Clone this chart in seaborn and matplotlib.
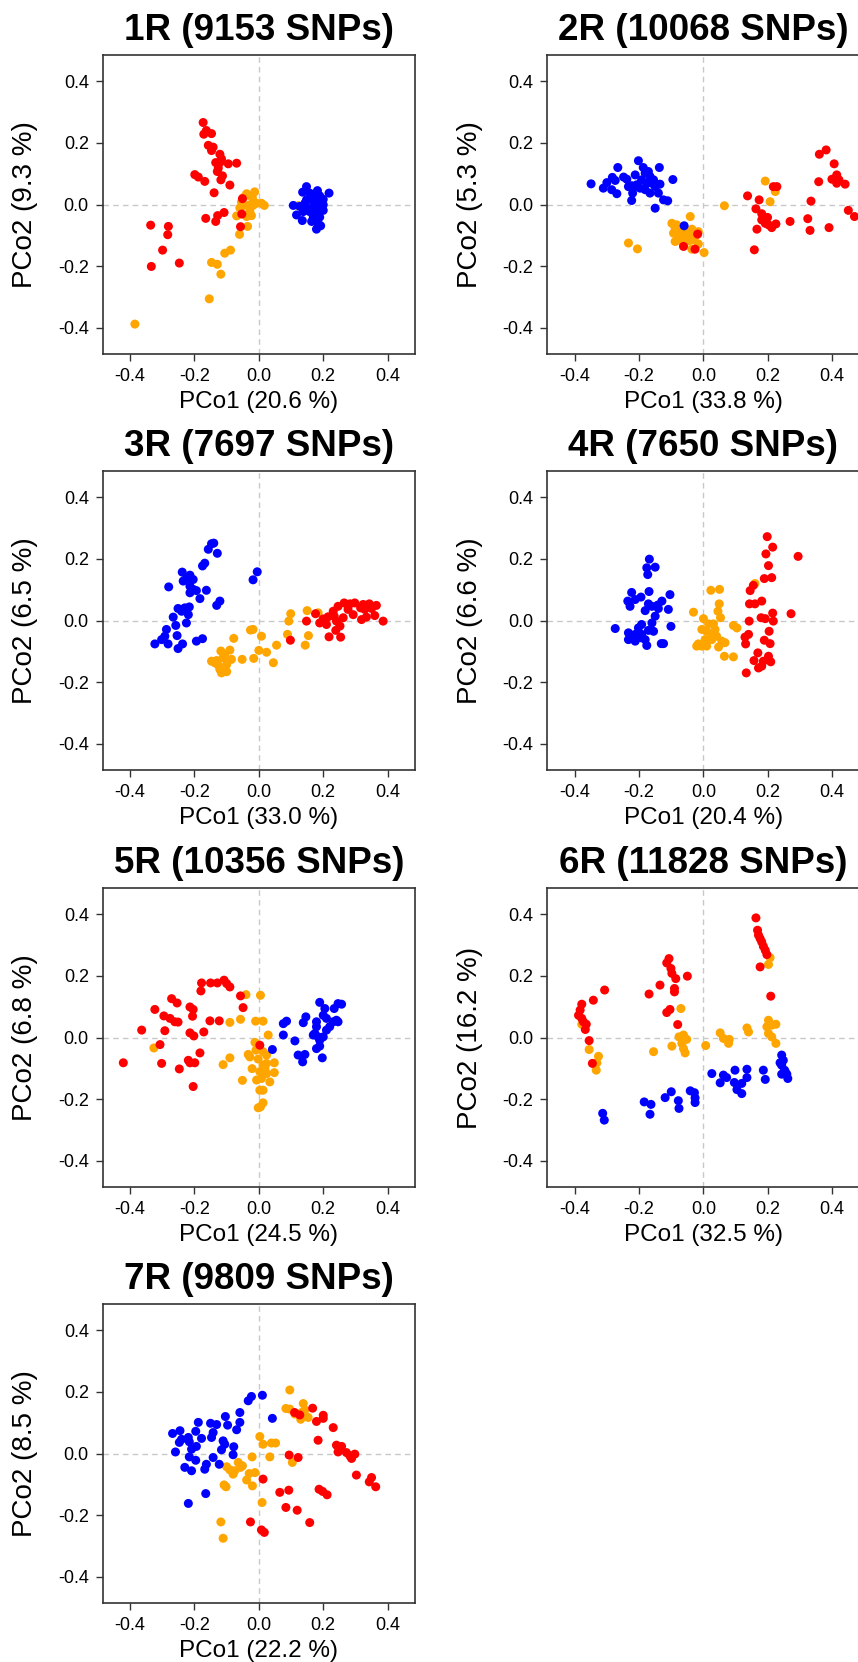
import matplotlib
matplotlib.use('Agg')
import matplotlib.pyplot as plt
import seaborn as sns
import pandas as pd

# chromosome titles and % variance explained
chroms = ['1R', '2R', '3R', '4R', '5R', '6R', '7R']
snps = [9153, 10068, 7697, 7650, 10356, 11828, 9809]
pco1_pct = [20.6, 33.8, 33.0, 20.4, 24.5, 32.5, 22.2]
pco2_pct = [9.3, 5.3, 6.5, 6.6, 6.8, 16.2, 8.5]
ticks = [-0.4, -0.2, 0.0, 0.2, 0.4]
tick_labels = ['-0.4', '-0.2', '0.0', '0.2', '0.4']

# (PCo1, PCo2) per group
c1_orange = [(-0.385, -0.388), (-0.154, -0.306), (-0.118, -0.226), (-0.147, -0.188), (-0.129, -0.194),
             (-0.106, -0.158), (-0.088, -0.148), (-0.060, -0.097), (-0.035, -0.071), (-0.069, -0.037),
             (-0.038, -0.039), (-0.023, -0.036), (-0.028, -0.023), (-0.059, -0.011), (-0.049, -0.004),
             (-0.033, -0.003), (-0.018, -0.003), (-0.007, 0.004), (0.008, 0.004), (0.017, -0.003),
             (-0.038, 0.035), (-0.013, 0.041), (-0.020, 0.021), (-0.054, 0.008), (-0.047, 0.023),
             (0.122, -0.004)]
c1_red = [(-0.173, 0.266), (-0.163, 0.240), (-0.171, 0.228), (-0.147, 0.230), (-0.157, 0.192),
          (-0.142, 0.186), (-0.147, 0.175), (-0.121, 0.163), (-0.116, 0.148), (-0.134, 0.136),
          (-0.121, 0.136), (-0.095, 0.132), (-0.069, 0.134), (-0.126, 0.118), (-0.129, 0.107),
          (-0.113, 0.093), (-0.118, 0.080), (-0.199, 0.097), (-0.188, 0.089), (-0.168, 0.075),
          (-0.090, 0.063), (-0.139, 0.038), (-0.051, 0.019), (-0.053, -0.031), (-0.108, -0.026),
          (-0.128, -0.036), (-0.134, -0.055), (-0.165, -0.045), (-0.057, -0.072), (-0.336, -0.067),
          (-0.281, -0.071), (-0.283, -0.098), (-0.299, -0.148), (-0.334, -0.201), (-0.247, -0.190)]
c1_blue = [(0.148, 0.058), (0.182, 0.045), (0.218, 0.037), (0.136, 0.040), (0.164, 0.026),
           (0.189, 0.028), (0.200, 0.017), (0.148, 0.015), (0.169, 0.010), (0.189, 0.004),
           (0.107, -0.003), (0.127, -0.006), (0.153, -0.012), (0.174, -0.006), (0.195, -0.012),
           (0.138, -0.023), (0.158, -0.023), (0.200, -0.019), (0.117, -0.034), (0.179, -0.028),
           (0.169, -0.039), (0.189, -0.041), (0.135, -0.052), (0.164, -0.055), (0.184, -0.061),
           (0.192, -0.069), (0.179, -0.080), (0.143, 0.004), (0.200, -0.001), (0.158, 0.037),
           (0.174, 0.026)]

c2_orange = [(-0.233, -0.125), (-0.205, -0.144), (-0.098, -0.061), (-0.041, -0.039), (-0.088, -0.077),
             (-0.067, -0.082), (-0.047, -0.088), (-0.036, -0.080), (-0.016, -0.088), (-0.093, -0.093),
             (-0.078, -0.104), (-0.062, -0.109), (-0.036, -0.115), (-0.088, -0.120), (-0.067, -0.120),
             (-0.047, -0.118), (-0.016, -0.128), (-0.036, -0.145), (0.002, -0.156), (0.065, -0.004),
             (0.192, 0.076), (0.223, 0.042), (0.207, 0.009), (-0.026, -0.104), (-0.083, -0.066),
             (-0.052, -0.098)]
c2_red = [(-0.062, -0.136), (-0.026, -0.145), (-0.018, -0.096), (0.137, 0.028), (0.173, 0.015),
          (0.163, -0.014), (0.181, -0.030), (0.186, -0.044), (0.199, -0.042), (0.192, -0.061),
          (0.212, -0.075), (0.225, -0.063), (0.166, -0.080), (0.158, -0.147), (0.269, -0.055),
          (0.217, 0.058), (0.228, 0.058), (0.334, 0.011), (0.324, -0.046), (0.331, -0.084),
          (0.390, -0.075), (0.358, 0.074), (0.360, 0.163), (0.381, 0.177), (0.406, 0.132),
          (0.399, 0.082), (0.414, 0.096), (0.421, 0.080), (0.414, 0.069), (0.440, 0.066),
          (0.450, -0.019), (0.469, -0.039), (0.181, -0.050), (0.202, -0.066)]
c2_blue = [(-0.349, 0.067), (-0.311, 0.053), (-0.300, 0.071), (-0.283, 0.088), (-0.274, 0.078),
           (-0.266, 0.120), (-0.285, 0.048), (-0.269, 0.035), (-0.248, 0.089), (-0.238, 0.082),
           (-0.223, 0.061), (-0.220, 0.037), (-0.223, 0.013), (-0.212, 0.096), (-0.202, 0.142),
           (-0.207, 0.064), (-0.192, 0.080), (-0.187, 0.120), (-0.181, 0.102), (-0.181, 0.048),
           (-0.171, 0.107), (-0.166, 0.091), (-0.160, 0.069), (-0.166, 0.037), (-0.155, 0.080),
           (-0.137, 0.120), (-0.135, 0.066), (-0.150, 0.058), (-0.140, 0.037), (-0.124, 0.015),
           (-0.111, 0.012), (-0.095, 0.081), (-0.150, -0.012), (-0.060, -0.069), (-0.233, 0.058),
           (-0.212, 0.058), (-0.197, 0.053), (-0.176, 0.069)]

c3_orange = [(0.150, 0.032), (0.099, 0.022), (0.093, -0.002), (0.089, -0.045), (0.154, -0.049),
             (0.144, -0.080), (0.055, -0.080), (0.045, -0.137), (0.024, -0.103), (0.000, -0.097),
             (-0.016, -0.123), (0.008, -0.051), (-0.018, -0.029), (-0.026, -0.031), (-0.078, -0.058),
             (-0.052, -0.126), (-0.090, -0.096), (-0.118, -0.099), (-0.147, -0.132), (-0.131, -0.130),
             (-0.126, -0.145), (-0.111, -0.121), (-0.100, -0.143), (-0.085, -0.126), (-0.116, -0.170),
             (-0.100, -0.166), (-0.137, -0.137), (-0.121, -0.159), (-0.106, -0.110), (0.184, 0.025)]
c3_red = [(0.098, -0.064), (0.176, 0.022), (0.148, -0.002), (0.189, -0.008), (0.200, 0.005),
          (0.215, 0.012), (0.210, -0.013), (0.241, -0.002), (0.234, 0.014), (0.262, 0.009),
          (0.252, -0.018), (0.239, -0.032), (0.218, -0.053), (0.254, -0.054), (0.246, 0.046),
          (0.265, 0.057), (0.277, 0.036), (0.298, 0.057), (0.316, 0.041), (0.293, 0.019),
          (0.319, 0.003), (0.334, 0.011), (0.360, 0.016), (0.324, 0.052), (0.343, 0.054),
          (0.365, 0.049), (0.386, -0.002), (0.350, 0.039), (0.329, 0.036), (0.283, 0.054),
          (0.231, 0.030)]
c3_blue = [(-0.140, 0.251), (-0.147, 0.249), (-0.157, 0.231), (-0.129, 0.218), (-0.168, 0.186),
           (-0.175, 0.177), (-0.238, 0.157), (-0.214, 0.147), (-0.204, 0.133), (-0.235, 0.128),
           (-0.225, 0.136), (-0.280, 0.109), (-0.214, 0.111), (-0.204, 0.101), (-0.194, 0.097),
           (-0.214, 0.090), (-0.163, 0.098), (-0.183, 0.071), (-0.121, 0.063), (-0.131, 0.049),
           (-0.216, 0.044), (-0.230, 0.041), (-0.251, 0.039), (-0.240, 0.030), (-0.219, 0.019),
           (-0.266, 0.011), (-0.225, -0.008), (-0.258, -0.016), (-0.287, -0.029), (-0.292, -0.051),
           (-0.254, -0.049), (-0.302, -0.062), (-0.323, -0.076), (-0.282, -0.076), (-0.237, -0.076),
           (-0.251, -0.091), (-0.194, -0.067), (-0.175, -0.059), (-0.005, 0.158), (-0.018, 0.132),
           (-0.235, 0.036)]

c4_orange = [(0.023, 0.098), (0.050, 0.101), (0.049, 0.054), (0.045, 0.030), (0.053, 0.009),
             (-0.031, 0.027), (0.000, 0.006), (0.016, -0.011), (0.031, -0.011), (-0.005, -0.029),
             (0.010, -0.035), (0.026, -0.045), (0.041, -0.051), (0.057, -0.067), (0.067, -0.072),
             (0.047, -0.086), (0.065, -0.116), (0.093, -0.118), (-0.016, -0.076), (-0.021, -0.083),
             (-0.005, -0.083), (0.010, -0.083), (0.093, -0.016), (0.104, -0.024), (0.160, 0.120),
             (0.026, -0.062), (0.005, -0.062), (0.036, -0.029)]
c4_red = [(0.198, 0.272), (0.215, 0.238), (0.194, 0.216), (0.202, 0.178), (0.189, 0.136),
          (0.212, 0.139), (0.155, 0.114), (0.145, 0.097), (0.143, 0.054), (0.160, 0.054),
          (0.181, 0.063), (0.215, 0.024), (0.272, 0.022), (0.179, 0.009), (0.192, 0.006),
          (0.217, -0.002), (0.142, -0.002), (0.204, -0.035), (0.140, -0.045), (0.129, -0.054),
          (0.131, -0.076), (0.189, -0.064), (0.207, -0.075), (0.169, -0.105), (0.157, -0.130),
          (0.186, -0.132), (0.202, -0.116), (0.209, -0.134), (0.171, -0.154), (0.133, -0.170),
          (0.294, 0.208), (0.181, -0.148)]
c4_blue = [(-0.168, 0.199), (-0.176, 0.171), (-0.150, 0.173), (-0.173, 0.149), (-0.223, 0.091),
           (-0.235, 0.063), (-0.228, 0.046), (-0.212, 0.068), (-0.194, 0.076), (-0.169, 0.094),
           (-0.171, 0.054), (-0.160, 0.046), (-0.181, 0.032), (-0.150, 0.014), (-0.140, 0.039),
           (-0.129, 0.063), (-0.142, 0.050), (-0.104, 0.084), (-0.109, 0.036), (-0.160, -0.008),
           (-0.192, -0.013), (-0.274, -0.026), (-0.233, -0.040), (-0.212, -0.045), (-0.192, -0.045),
           (-0.171, -0.032), (-0.233, -0.062), (-0.212, -0.067), (-0.194, -0.056), (-0.181, -0.062),
           (-0.176, -0.081), (-0.131, -0.075), (-0.124, -0.075), (-0.101, -0.019), (-0.155, -0.035),
           (-0.202, -0.024), (-0.223, -0.051)]

c5_orange = [(-0.040, 0.139), (0.005, 0.137), (-0.057, 0.059), (-0.090, 0.049), (-0.010, 0.053),
             (0.013, 0.053), (0.029, 0.008), (-0.326, -0.034), (-0.012, -0.016), (-0.009, -0.041),
             (0.013, -0.046), (0.024, -0.057), (-0.033, -0.055), (-0.028, -0.063), (-0.002, -0.070),
             (-0.090, -0.066), (-0.111, -0.088), (-0.021, -0.101), (0.013, -0.090), (0.024, -0.084),
             (0.048, -0.082), (0.003, -0.111), (0.024, -0.117), (0.048, -0.114), (-0.007, -0.138),
             (0.034, -0.144), (-0.051, -0.139), (0.003, -0.171), (0.013, -0.171), (0.013, -0.212),
             (0.005, -0.225), (-0.002, -0.228), (0.008, -0.133), (0.019, -0.101)]
c5_red = [(-0.178, 0.177), (-0.180, 0.151), (-0.150, 0.177), (-0.129, 0.177), (-0.108, 0.186),
          (-0.100, 0.175), (-0.090, 0.164), (-0.057, 0.135), (-0.049, 0.097), (-0.271, 0.126),
          (-0.254, 0.112), (-0.323, 0.091), (-0.214, 0.099), (-0.204, 0.091), (-0.295, 0.070),
          (-0.276, 0.062), (-0.261, 0.051), (-0.251, 0.050), (-0.206, 0.069), (-0.152, 0.054),
          (-0.123, 0.054), (-0.364, 0.024), (-0.292, 0.022), (-0.214, 0.015), (-0.202, 0.005),
          (-0.171, 0.018), (-0.307, -0.023), (-0.183, -0.050), (-0.421, -0.082), (-0.302, -0.084),
          (-0.219, -0.074), (-0.214, -0.082), (-0.199, -0.082), (-0.247, -0.102), (-0.204, -0.159),
          (0.003, -0.025)]
c5_blue = [(0.189, 0.114), (0.205, 0.094), (0.246, 0.110), (0.257, 0.108), (0.234, 0.094),
           (0.200, 0.072), (0.210, 0.062), (0.231, 0.051), (0.246, 0.051), (0.146, 0.067),
           (0.138, 0.048), (0.179, 0.051), (0.086, 0.053), (0.076, 0.045), (0.220, 0.035),
           (0.210, 0.024), (0.179, 0.035), (0.174, 0.013), (0.200, 0.002), (0.184, 0.002),
           (0.169, 0.008), (0.076, 0.008), (0.112, -0.011), (0.189, -0.009), (0.179, -0.036),
           (0.189, -0.028), (0.042, -0.039), (0.122, -0.057), (0.143, -0.055), (0.136, -0.079),
           (0.197, -0.066), (0.241, 0.056)]

c6_orange = [(0.207, 0.259), (0.202, 0.237), (-0.070, 0.094), (-0.062, 0.008), (-0.076, 0.002),
             (-0.052, -0.006), (-0.067, -0.019), (-0.062, -0.036), (-0.057, -0.050), (-0.098, -0.028),
             (-0.155, -0.046), (0.007, -0.026), (0.052, 0.015), (0.062, -0.003), (0.080, -0.006),
             (0.078, -0.019), (0.135, 0.031), (0.140, 0.018), (0.202, 0.056), (0.197, 0.035),
             (0.212, 0.040), (0.225, 0.043), (0.202, 0.013), (0.212, 0.002), (0.225, -0.019),
             (-0.355, -0.039), (-0.326, -0.061), (-0.331, -0.082), (-0.333, -0.106), (-0.378, 0.043)]
c6_red = [(0.163, 0.388), (0.168, 0.348), (0.171, 0.332), (0.176, 0.321), (0.181, 0.310),
          (0.186, 0.296), (0.192, 0.283), (0.197, 0.269), (0.176, 0.229), (0.209, 0.134),
          (-0.107, 0.256), (-0.114, 0.242), (-0.101, 0.224), (-0.098, 0.208), (-0.086, 0.191),
          (-0.090, 0.159), (-0.090, 0.148), (-0.050, 0.199), (-0.135, 0.170), (-0.169, 0.141),
          (-0.104, 0.091), (-0.114, 0.081), (-0.080, 0.042), (-0.307, 0.154), (-0.342, 0.121),
          (-0.378, 0.108), (-0.383, 0.089), (-0.388, 0.072), (-0.378, 0.062), (-0.373, 0.051),
          (-0.364, 0.043), (-0.367, 0.026), (-0.355, -0.010), (-0.345, -0.084)]
c6_blue = [(-0.313, -0.246), (-0.308, -0.268), (-0.184, -0.209), (-0.163, -0.217), (-0.166, -0.249),
           (-0.119, -0.195), (-0.100, -0.176), (-0.078, -0.205), (-0.076, -0.230), (-0.041, -0.173),
           (-0.028, -0.179), (-0.026, -0.196), (-0.026, -0.211), (0.026, -0.117), (0.052, -0.147),
           (0.062, -0.122), (0.072, -0.130), (0.098, -0.106), (0.096, -0.146), (0.104, -0.169),
           (0.119, -0.182), (0.119, -0.149), (0.135, -0.103), (0.135, -0.130), (0.186, -0.106),
           (0.192, -0.136), (0.243, -0.057), (0.248, -0.074), (0.238, -0.082), (0.243, -0.090),
           (0.252, -0.106), (0.243, -0.119), (0.259, -0.119), (0.262, -0.133), (0.254, -0.111)]

c7_orange = [(0.096, 0.206), (0.138, 0.162), (0.084, 0.146), (0.096, 0.144), (0.112, 0.128),
             (0.133, 0.133), (0.143, 0.141), (0.153, 0.117), (0.130, 0.111), (0.003, 0.055),
             (0.013, 0.030), (0.039, 0.034), (0.052, 0.034), (0.034, -0.011), (-0.021, -0.011),
             (0.104, -0.029), (-0.100, -0.043), (-0.090, -0.053), (-0.080, -0.067), (-0.075, -0.056),
             (-0.064, -0.029), (-0.057, -0.045), (-0.051, -0.040), (-0.030, -0.065), (-0.012, -0.062),
             (-0.038, -0.086), (-0.020, -0.105), (-0.108, -0.102), (-0.102, -0.108), (0.010, -0.159),
             (-0.118, -0.222), (-0.111, -0.275)]
c7_red = [(0.111, 0.133), (0.127, 0.125), (0.167, 0.147), (0.200, 0.124), (0.200, 0.114),
          (0.179, 0.104), (0.231, 0.084), (0.184, 0.043), (0.241, 0.027), (0.257, 0.023),
          (0.246, 0.005), (0.272, 0.003), (0.283, -0.008), (0.298, -0.002), (0.288, -0.016),
          (0.303, -0.070), (0.350, -0.078), (0.343, -0.092), (0.363, -0.108), (0.094, -0.005),
          (0.122, -0.013), (0.013, -0.083), (0.065, -0.126), (0.093, -0.119), (0.187, -0.116),
          (0.198, -0.123), (0.212, -0.134), (0.084, -0.175), (0.119, -0.184), (0.158, -0.224),
          (-0.026, -0.222), (0.008, -0.248), (0.017, -0.256)]
c7_blue = [(0.011, 0.189), (-0.023, 0.185), (-0.033, 0.171), (0.042, 0.114), (-0.059, 0.133),
           (-0.059, 0.101), (-0.069, 0.077), (-0.104, 0.120), (-0.097, 0.092), (-0.131, 0.094),
           (-0.150, 0.098), (-0.188, 0.101), (-0.196, 0.072), (-0.142, 0.068), (-0.147, 0.052),
           (-0.178, 0.049), (-0.268, 0.065), (-0.245, 0.074), (-0.240, 0.046), (-0.247, 0.036),
           (-0.219, 0.052), (-0.216, 0.038), (-0.209, 0.014), (-0.194, 0.023), (-0.259, 0.005),
           (-0.216, -0.011), (-0.196, -0.022), (-0.230, -0.045), (-0.209, -0.056), (-0.168, -0.051),
           (-0.163, -0.035), (-0.142, -0.013), (-0.123, -0.035), (-0.116, 0.012), (-0.106, 0.030),
           (-0.111, 0.041), (-0.078, 0.022), (-0.080, -0.004), (-0.165, -0.130), (-0.219, -0.162)]

panels = [
    (c1_orange, c1_red, c1_blue), (c2_orange, c2_red, c2_blue),
    (c3_orange, c3_red, c3_blue), (c4_orange, c4_red, c4_blue),
    (c5_orange, c5_red, c5_blue), (c6_orange, c6_red, c6_blue),
    (c7_orange, c7_red, c7_blue),
]
palette = {'orange': '#FFA500', 'red': '#FF0000', 'blue': '#0000FF'}

sns.set_theme(style='ticks')
plt.rcParams['font.family'] = ['Liberation Sans', 'DejaVu Sans']
plt.rcParams['axes.unicode_minus'] = False
plt.rcParams['text.color'] = 'black'
plt.rcParams['axes.labelcolor'] = 'black'

W, H = 858, 1662
fig = plt.figure(figsize=(W / 100, H / 100), dpi=100)

col_left = [102.7, 547.3]
row_top = [55, 471, 888, 1304]
ax_w, ax_h = 312.3, 299
lim = 0.485
edge = '#333333'

for i, groups in enumerate(panels):
    r, c = divmod(i, 2)
    left = col_left[c] / W
    bottom = (H - row_top[r] - ax_h) / H
    ax = fig.add_axes([left, bottom, ax_w / W, ax_h / H])

    rows = []
    for name, pts in zip(['orange', 'red', 'blue'], groups):
        for x, y in pts:
            rows.append({'PCo1': x, 'PCo2': y, 'group': name})
    df = pd.DataFrame(rows)

    ax.axhline(0, color='#C8C8C8', lw=1, ls=(0, (4, 3)), zorder=0)
    ax.axvline(0, color='#C8C8C8', lw=1, ls=(0, (4, 3)), zorder=0)
    sns.scatterplot(data=df, x='PCo1', y='PCo2', hue='group', palette=palette,
                    s=42, linewidth=0, alpha=1, legend=False, ax=ax, zorder=3)

    ax.set_xlim(-lim, lim)
    ax.set_ylim(-lim, lim)
    ax.set_xticks(ticks)
    ax.set_xticklabels(tick_labels)
    ax.set_yticks(ticks)
    ax.set_yticklabels(tick_labels)
    ax.tick_params(direction='out', length=5, width=1, color=edge,
                   labelsize=13, labelcolor='black', pad=5)
    for sp in ax.spines.values():
        sp.set_visible(True)
        sp.set_color(edge)
        sp.set_linewidth(1.2)

    ax.set_title(f'{chroms[i]} ({snps[i]} SNPs)', fontsize=26.5, fontweight='bold',
                 pad=11, color='black')
    ax.set_xlabel(f'PCo1 ({pco1_pct[i]:.1f} %)', fontsize=17.5, color='black')
    ax.set_ylabel(f'PCo2 ({pco2_pct[i]:.1f} %)', fontsize=20, color='black')
    ax.xaxis.set_label_coords(0.5, -0.125)
    ax.yaxis.set_label_coords(-0.207, 0.5)

fig.savefig('out.png', dpi=100, facecolor='white')
